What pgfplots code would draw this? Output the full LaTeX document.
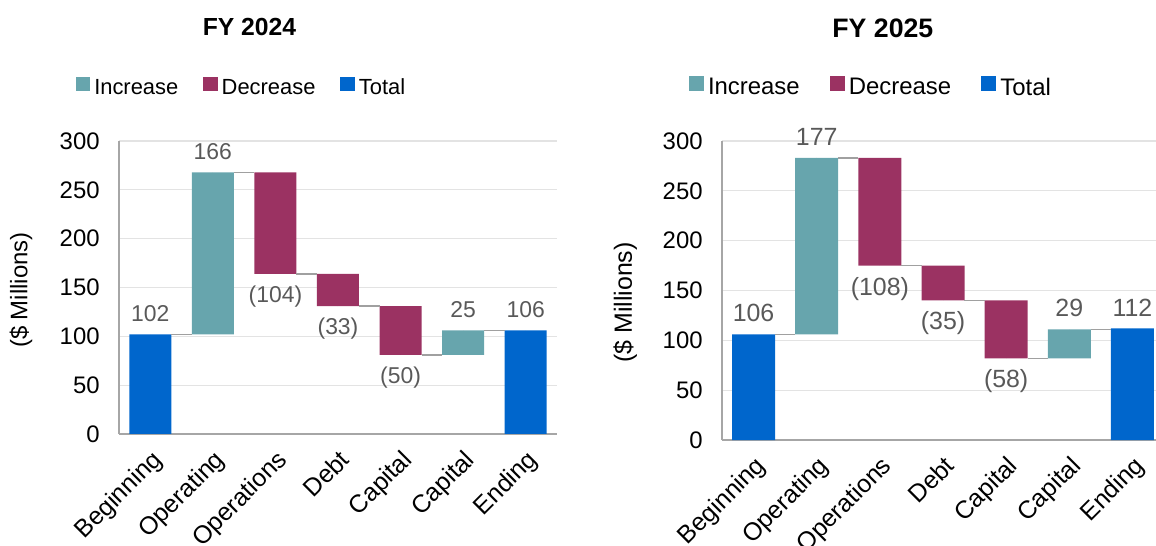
\documentclass[border=0pt]{standalone}
\usepackage{pgfplots}
\pgfplotsset{compat=1.18}
\usepackage{fontspec}
\setmainfont{Liberation Sans}

\definecolor{incr}{HTML}{67A5AD}
\definecolor{decr}{HTML}{9B3262}
\definecolor{tot}{HTML}{0066CC}
\definecolor{lbl}{HTML}{595959}
\definecolor{gridc}{HTML}{E3E3E3}
\definecolor{axisc}{HTML}{A6A6A6}
\definecolor{conn}{HTML}{A0A0A0}

\newcommand\fs[1]{\fontsize{#1}{#1}\selectfont}

\pgfplotsset{
  wf common/.style={
    scale only axis, anchor=south west,
    xmin=-0.5, xmax=6.5, ymin=0, ymax=300,
    xtick={0,...,6}, ytick={0,50,...,300},
    major tick length=0pt,
    /pgf/number format/assume math mode=true,
  },
  wf frame/.style={
    wf common,
    ybar stacked,
    axis x line*=bottom, axis y line*=left,
    axis line style={axisc, line width=0.6bp, -},
    ymajorgrids, grid style={gridc, line width=0.6bp},
    xticklabels={Beginning,Operating,Operations,Debt,Capital,Capital,Ending},
    xticklabel style={font=\fs{12.5}, inner sep=0pt, xshift=0bp, yshift=-7bp, rotate=45, anchor=north east},
    yticklabel style={font=\fs{12}, inner sep=0pt, anchor=east, xshift=-9.5bp},
    ylabel={(\$ Millions)},
    ylabel style={font=\fs{12}, anchor=center},
    title style={anchor=center},
  },
  wf overlay/.style={
    wf common, hide axis, clip=false,
    legend style={draw=none, fill=none, legend columns=3, anchor=center, inner sep=0pt},
    legend image code/.code={\fill[##1] (0bp,-1.5bp) rectangle (7.2bp,5.7bp);},
  },
  wf labels/.style={
    only marks, mark=*, mark size=0pt, mark options={draw=none, fill=none},
    point meta=explicit symbolic, nodes near coords, forget plot,
  },
  wf link/.style={conn, line width=0.75bp, no marks, unbounded coords=jump, forget plot},
}

\begin{document}
\begin{tikzpicture}
\useasboundingbox (0,0) rectangle (578bp,273bp);

% ---------------- FY 2024 ----------------
\begin{axis}[wf frame, at={(59.5bp,56bp)}, width=219bp, height=146.5bp, bar width=21bp,
  title={FY 2024}, title style={font=\fs{12.4}\bfseries, at={(axis description cs:0.298,1.348)}},
  ylabel style={at={(axis description cs:-0.2237,0.491)}}]
  % invisible base of the floating bars
  \addplot[fill=none, draw=none] coordinates {(0,0) (1,102) (2,164) (3,131) (4,81) (5,81) (6,0)};
  \addplot[fill=incr, draw=none] coordinates {(0,0) (1,166) (2,0) (3,0) (4,0) (5,25) (6,0)};
  \addplot[fill=decr, draw=none] coordinates {(0,0) (1,0) (2,104) (3,33) (4,50) (5,0) (6,0)};
  \addplot[fill=tot, draw=none] coordinates {(0,102) (1,0) (2,0) (3,0) (4,0) (5,0) (6,106)};
\end{axis}
\begin{axis}[wf overlay, at={(59.5bp,56bp)}, width=219bp, height=146.5bp,
  legend style={at={(axis description cs:0.282,1.181)}, font=\fs{11},
    /tikz/every even column/.append style={column sep=10.5bp}}]
  \addlegendimage{fill=incr, draw=none}\addlegendentry{Increase}
  \addlegendimage{fill=decr, draw=none}\addlegendentry{Decrease}
  \addlegendimage{fill=tot, draw=none}\addlegendentry{Total}
  % connectors between consecutive bars
  \addplot[wf link] coordinates {
    (0.336,102) (0.664,102) (1,nan)
    (1.336,268) (1.664,268) (2,nan)
    (2.336,164) (2.664,164) (3,nan)
    (3.336,131) (3.664,131) (4,nan)
    (4.336,81) (4.664,81) (5,nan)
    (5.336,106) (5.664,106)};
  % value labels above and below the bars
  \addplot[wf labels, nodes near coords style={font=\fs{11.5}, text=lbl, anchor=center, yshift=10.5bp}]
    coordinates {(0,102)[102] (1,268)[166] (5,106)[25] (6,106)[106]};
  \addplot[wf labels, nodes near coords style={font=\fs{11.5}, text=lbl, anchor=center, yshift=-11.5bp}]
    coordinates {(2,164)[(104)] (3,131)[(33)] (4,81)[(50)]};
\end{axis}

% ---------------- FY 2025 ----------------
\begin{axis}[wf frame, at={(361bp,53bp)}, width=221bp, height=149.5bp, bar width=21.5bp,
  title={FY 2025}, title style={font=\fs{13.4}\bfseries, at={(axis description cs:0.364,1.338)}},
  ylabel style={font=\fs{12.5}, at={(axis description cs:-0.219,0.46)}}]
  \addplot[fill=none, draw=none] coordinates {(0,0) (1,106) (2,175) (3,140) (4,82) (5,82) (6,0)};
  \addplot[fill=incr, draw=none] coordinates {(0,0) (1,177) (2,0) (3,0) (4,0) (5,29) (6,0)};
  \addplot[fill=decr, draw=none] coordinates {(0,0) (1,0) (2,108) (3,35) (4,58) (5,0) (6,0)};
  \addplot[fill=tot, draw=none] coordinates {(0,106) (1,0) (2,0) (3,0) (4,0) (5,0) (6,112)};
\end{axis}
\begin{axis}[wf overlay, at={(361bp,53bp)}, width=221bp, height=149.5bp,
  legend style={at={(axis description cs:0.339,1.177)}, font=\fs{12},
    /tikz/every even column/.append style={column sep=13bp}},
  legend image code/.code={\fill[#1] (0bp,-1.6bp) rectangle (7.6bp,6bp);}]
  \addlegendimage{fill=incr, draw=none}\addlegendentry{Increase}
  \addlegendimage{fill=decr, draw=none}\addlegendentry{Decrease}
  \addlegendimage{fill=tot, draw=none}\addlegendentry{Total}
  \addplot[wf link] coordinates {
    (0.34,106) (0.66,106) (1,nan)
    (1.34,283) (1.66,283) (2,nan)
    (2.34,175) (2.66,175) (3,nan)
    (3.34,140) (3.66,140) (4,nan)
    (4.34,82) (4.66,82) (5,nan)
    (5.34,111) (5.66,111)};
  \addplot[wf labels, nodes near coords style={font=\fs{12.5}, text=lbl, anchor=center, yshift=10.5bp}]
    coordinates {(0,106)[106] (1,283)[177] (5,111)[29] (6,112)[112]};
  \addplot[wf labels, nodes near coords style={font=\fs{12.5}, text=lbl, anchor=center, yshift=-11.5bp}]
    coordinates {(2,175)[(108)] (3,140)[(35)] (4,82)[(58)]};
\end{axis}
\end{tikzpicture}
\end{document}
